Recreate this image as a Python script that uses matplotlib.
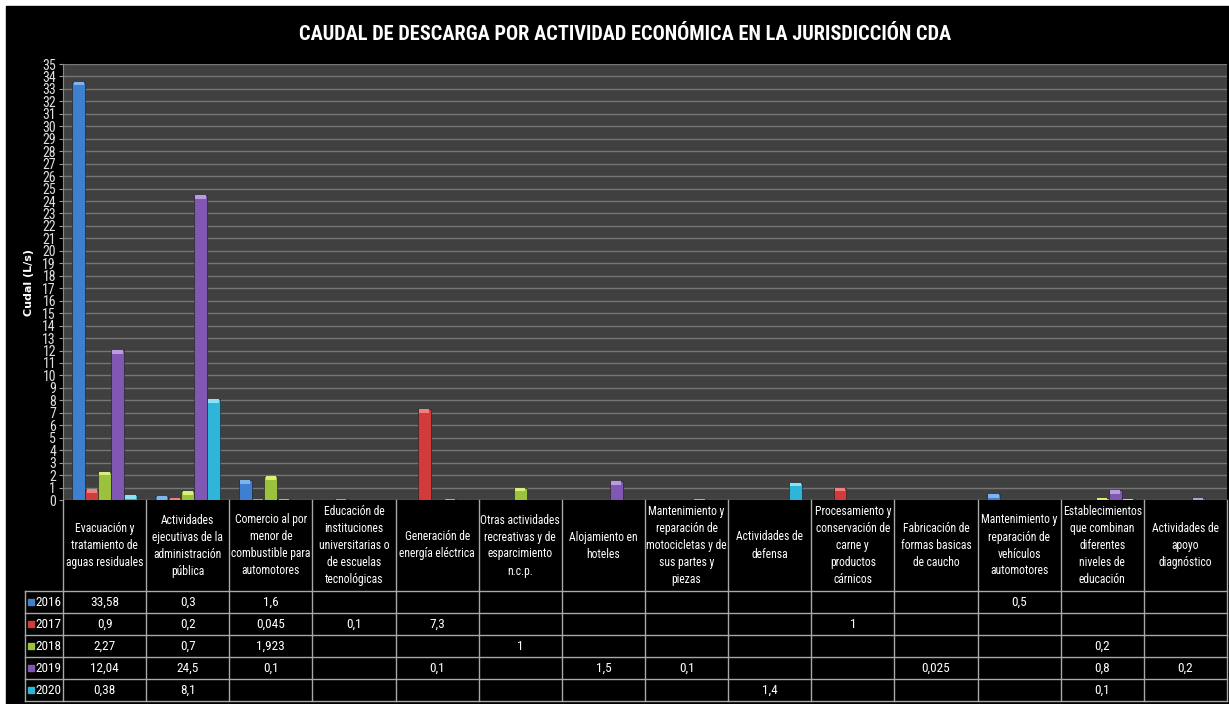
import matplotlib
matplotlib.use("Agg")
import matplotlib.pyplot as plt
import numpy as np
from matplotlib import font_manager
from matplotlib.patches import Rectangle

# pick a narrow font if there is one
names = {f.name for f in font_manager.fontManager.ttflist}
prefs = ["Roboto Condensed", "Liberation Sans Narrow", "Archivo Narrow", "Lato"]
NARROW = next((p for p in prefs if p in names), "DejaVu Sans")

categorias = [
    "Evacuación y\ntratamiento de\naguas residuales",
    "Actividades\nejecutivas de la\nadministración\npública",
    "Comercio al por\nmenor de\ncombustible para\nautomotores",
    "Educación de\ninstituciones\nuniversitarias o\nde escuelas\ntecnológicas",
    "Generación de\nenergía eléctrica",
    "Otras actividades\nrecreativas y de\nesparcimiento\nn.c.p.",
    "Alojamiento en\nhoteles",
    "Mantenimiento y\nreparación de\nmotocicletas y de\nsus partes y\npiezas",
    "Actividades de\ndefensa",
    "Procesamiento y\nconservación de\ncarne y\nproductos\ncárnicos",
    "Fabricación de\nformas basicas\nde caucho",
    "Mantenimiento y\nreparación de\nvehículos\nautomotores",
    "Establecimientos\nque combinan\ndiferentes\nniveles de\neducación",
    "Actividades de\napoyo\ndiagnóstico",
]

anios = ["2016", "2017", "2018", "2019", "2020"]
n = None
v2016 = [33.58, 0.3, 1.6, n, n, n, n, n, n, n, n, 0.5, n, n]
v2017 = [0.9, 0.2, 0.045, 0.1, 7.3, n, n, n, n, 1, n, n, n, n]
v2018 = [2.27, 0.7, 1.923, n, n, 1, n, n, n, n, n, n, 0.2, n]
v2019 = [12.04, 24.5, 0.1, n, 0.1, n, 1.5, 0.1, n, n, 0.025, n, 0.8, 0.2]
v2020 = [0.38, 8.1, n, n, n, n, n, n, 1.4, n, n, n, 0.1, n]
series = [v2016, v2017, v2018, v2019, v2020]

colores = ["#3f7fcf", "#d13b3b", "#9cc13c", "#8058b4", "#2fb5d9"]
topes = ["#7fb3f0", "#f08080", "#d6f07a", "#b99be0", "#8be3f5"]

W, H = 1229, 704
fig = plt.figure(figsize=(W / 100, H / 100), dpi=100, facecolor="white")
fig.patches.append(Rectangle((6 / W, 0), 1 - 6 / W, 1 - 6 / H,
                             transform=fig.transFigure, color="black", zorder=-5))

L, R, T, B = 63, 1227, 64, 500
ax = fig.add_axes([L / W, 1 - B / H, (R - L) / W, (B - T) / H])
ax.set_facecolor("#404040")

x = np.arange(len(categorias))
bw = 0.155
for k, vals in enumerate(series):
    h = np.array([np.nan if v is None else v for v in vals], dtype=float)
    pos = x + (k - 2) * bw
    ax.bar(pos, h, bw, color=colores[k], edgecolor="#1a1a1a", linewidth=0.4, zorder=3)
    cap = np.minimum(h, 0.3)
    ax.bar(pos, cap, bw * 0.8, bottom=h - cap, color=topes[k], linewidth=0, zorder=4)

ax.set_xlim(-0.5, len(categorias) - 0.5)
ax.set_ylim(0, 35)
ax.set_yticks(range(0, 36))
ax.set_xticks([])
ax.grid(axis="y", color="#767676", linewidth=1.0, zorder=1)
ax.tick_params(axis="y", colors="#9a9a9a", length=3, labelcolor="#e0e0e0", pad=2)
for lab in ax.get_yticklabels():
    lab.set_fontfamily(NARROW)
    lab.set_fontsize(10)
for s in ["top", "right", "bottom"]:
    ax.spines[s].set_visible(False)
ax.spines["left"].set_color("#8a8a8a")
ax.set_ylabel("Cudal (L/s)", color="white", fontsize=8, fontweight="bold", labelpad=6)

fig.text(625 / W, 1 - 34 / H,
         "CAUDAL DE DESCARGA POR ACTIVIDAD ECONÓMICA EN LA JURISDICCIÓN CDA",
         color="white", fontsize=14.7, fontweight="bold", family=NARROW,
         ha="center", va="center")

# data table under the plot
hdr, rh = 91, 22
tb = hdr + rh * len(anios)
tab = fig.add_axes([L / W, 1 - (B + tb) / H, (R - L) / W, tb / H])
tab.set_xlim(-0.5, len(categorias) - 0.5)
tab.set_ylim(tb, 0)
tab.axis("off")
xl = -0.5 - 38 / ((R - L) / len(categorias))
lc = "#a8a8a8"
for i in range(len(categorias) + 1):
    tab.plot([i - 0.5, i - 0.5], [0, tb], color=lc, lw=1, clip_on=False)
tab.plot([xl, xl], [hdr, tb], color=lc, lw=1, clip_on=False)
for r in range(len(anios) + 1):
    tab.plot([xl, len(categorias) - 0.5], [hdr + r * rh] * 2, color=lc, lw=1, clip_on=False)

for i, c in enumerate(categorias):
    tab.text(i, hdr / 2, c, color="white", fontsize=8.4, family=NARROW,
             ha="center", va="center", linespacing=1.4)

for k, vals in enumerate(series):
    yc = hdr + rh * k + rh / 2
    tab.scatter([xl + 0.07], [yc], marker="s", s=14, color=colores[k], clip_on=False)
    tab.text(xl + 0.13, yc, anios[k], color="white", fontsize=9.5, family=NARROW,
             ha="left", va="center")
    for i, v in enumerate(vals):
        if v is not None:
            tab.text(i, yc, f"{v:g}".replace(".", ","), color="white", fontsize=9.5,
                     family=NARROW, ha="center", va="center")

fig.savefig("out.png", dpi=100, facecolor="white")
